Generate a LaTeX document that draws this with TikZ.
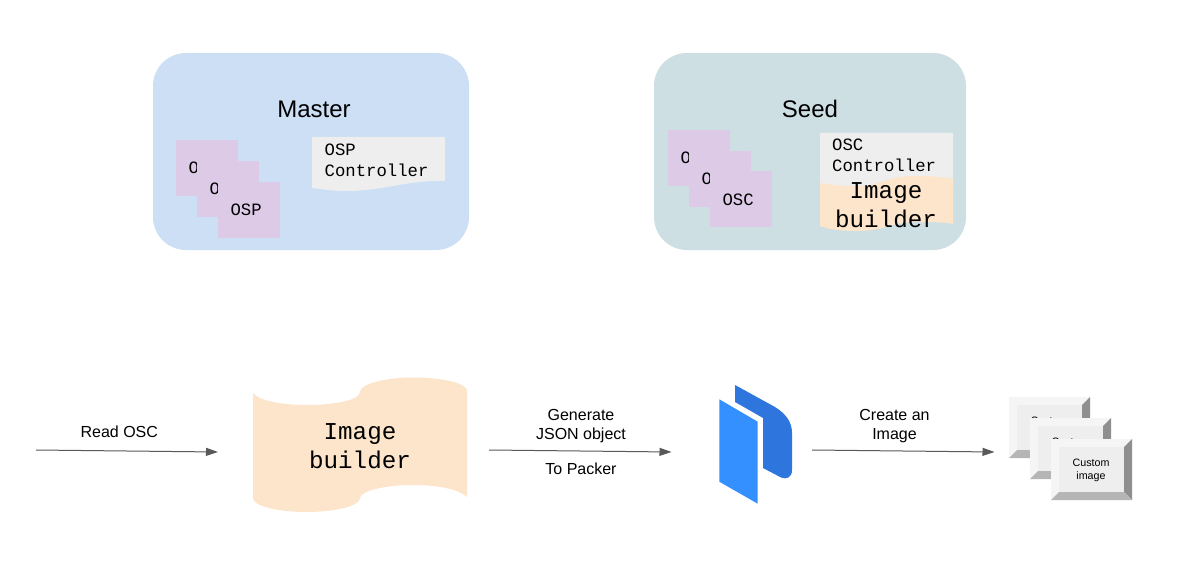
\documentclass[tikz,border=0pt]{standalone}
\usepackage{fontspec}
\setmainfont{Liberation Sans}
\newfontfamily\monof{Liberation Mono}
\usetikzlibrary{arrows.meta}
\definecolor{masterc}{HTML}{CCDFF4}
\definecolor{seedc}{HTML}{CDDFE3}
\definecolor{purplec}{HTML}{DCCAE7}
\definecolor{docc}{HTML}{EEEEEE}
\definecolor{peachc}{HTML}{FDE5CC}
\definecolor{arrowc}{HTML}{595959}
\definecolor{logoa}{HTML}{3590FF}
\definecolor{logob}{HTML}{2F75DE}
\newcommand{\ostext}[1]{\hspace*{-0.5pt}\raisebox{-0.8pt}{#1}}
\tikzset{
  x=1pt,y=-1pt,
  panel/.style={fill=#1,rounded corners=33pt},
  osbox/.style={fill=purplec,minimum width=62pt,minimum height=56pt,text width=36pt,inner xsep=13pt,inner ysep=0pt,align=left,font=\monof\fontsize{17.3}{21}\selectfont},
  title/.style={font=\fontsize{24}{29}\selectfont,inner sep=0pt},
  mono/.style={font=\monof\fontsize{17.3}{21}\selectfont,align=left,inner sep=0pt},
  bigmono/.style={font=\monof\fontsize{24.2}{29}\selectfont,align=center,inner sep=0pt},
  lab/.style={font=\fontsize{16}{19.5}\selectfont,align=center,inner sep=0pt},
  small/.style={font=\fontsize{10.7}{13}\selectfont,align=center,inner sep=0pt},
  flow/.style={draw=arrowc,line width=1pt,-{Triangle[length=12pt,width=8pt,fill=arrowc]}},
}
\newcommand{\custombox}[3]{%
  \begin{scope}[shift={(#2,#3)}]
    \fill[docc] (0,0) rectangle (81,61);
    \fill[white!96!black] (0,0) -- (81,0) -- (73,8) -- (8,8) -- (8,53) -- (0,61) -- cycle;
    \fill[white!56!black] (81,0) -- (81,61) -- (73,53) -- (73,8) -- cycle;
    \fill[white!71!black] (0,61) -- (81,61) -- (73,53) -- (8,53) -- cycle;
    \node[small] (#1) at (40,31) {Custom\\image};
  \end{scope}}
\begin{document}
\begin{tikzpicture}
\useasboundingbox (0,0) rectangle (1183,572);
\fill[white] (0,0) rectangle (1183,572);
% Master
\fill[panel=masterc] (153,53) rectangle (469,250);
\node[title] (mastertitle) at (314,109) {Master};
\node[osbox] (osp1) at (207,168) {\ostext{OSP}};
\node[osbox] (osp2) at (228,189) {\ostext{OSP}};
\node[osbox] (osp3) at (249,210) {\ostext{OSP}};
\fill[docc] (312,137) -- (445,137) -- (445,181)
  .. controls (405,180) and (385,191) .. (345,191)
  .. controls (332,191) and (322,189) .. (312,188) -- cycle;
\node[mono,anchor=west] (ospctl) at (324.5,160.5) {OSP\\Controller};
% Seed
\fill[panel=seedc] (654,53) rectangle (966,250);
\node[title] (seedtitle) at (810,109) {Seed};
\node[osbox] (osc1) at (699,158) {\ostext{OSC}};
\node[osbox] (osc2) at (720,179) {\ostext{OSC}};
\node[osbox] (osc3) at (741,199.5) {\ostext{OSC}};
\fill[docc] (820,133) -- (953,133) -- (953,177) -- (953,190) -- (820,190) -- cycle;
\node[mono,anchor=west] (oscctl) at (832,155.5) {OSC\\Controller};
\fill[peachc] (820,183) .. controls (835,186) and (855,187) .. (870,185)
  .. controls (885,182) and (890,176) .. (917,176)
  .. controls (930,176) and (945,177) .. (953,179)
  -- (953,224) .. controls (945,222) and (930,222) .. (917,222)
  .. controls (890,222) and (885,231) .. (857,231)
  .. controls (840,231) and (828,229) .. (820,226) -- cycle;
\node[bigmono] (seedbuilder) at (886,205.5) {Image\\builder};
% Image builder tape
\fill[peachc] (253,393) .. controls (258,400) and (280,405) .. (306,405)
  .. controls (335,405) and (360,400) .. (360,392)
  .. controls (360,384) and (385,377.5) .. (413,377.5)
  .. controls (442,377.5) and (467,383) .. (467,391)
  -- (467,497) .. controls (460,490) and (440,485) .. (413,485)
  .. controls (385,485) and (360,491) .. (360,498)
  .. controls (360,506) and (335,512) .. (306,512)
  .. controls (278,512) and (253,506) .. (253,498) -- cycle;
\node[bigmono] (builder) at (360,446.5) {Image\\builder};
% Packer logo
\fill[logob] (735,385) -- (775,407) .. controls (786,414) and (792,422) .. (792,433)
  -- (792,470) .. controls (792,477) and (787,480) .. (781,477.5)
  -- (763,468) -- (763,418) -- (735,402) -- cycle;
\fill[logoa] (719.3,399.3) -- (757.7,421.7) -- (757.7,503.7) -- (719.3,481.7) -- cycle;
% Custom images
\custombox{img1}{1009}{397}
\custombox{img2}{1030}{418}
\custombox{img3}{1051}{439}
% Connectors
\coordinate (a1) at (36,450);
\coordinate (a2) at (218,452);
\coordinate (b1) at (489,450);
\coordinate (b2) at (671.5,452);
\coordinate (c1) at (812,450);
\coordinate (c2) at (994.5,452);
\draw[flow] (a1) -- (a2);
\draw[flow] (b1) -- (b2);
\draw[flow] (c1) -- (c2);
\node[lab] (readosc) at (119.3,431.5) {Read OSC};
\node[lab] (genjson) at (581,426) {Generate\\JSON object};
\node[lab] (topacker) at (581,468.5) {To Packer};
\node[lab] (createimg) at (894.5,426) {Create an\\Image};
\end{tikzpicture}
\end{document}
